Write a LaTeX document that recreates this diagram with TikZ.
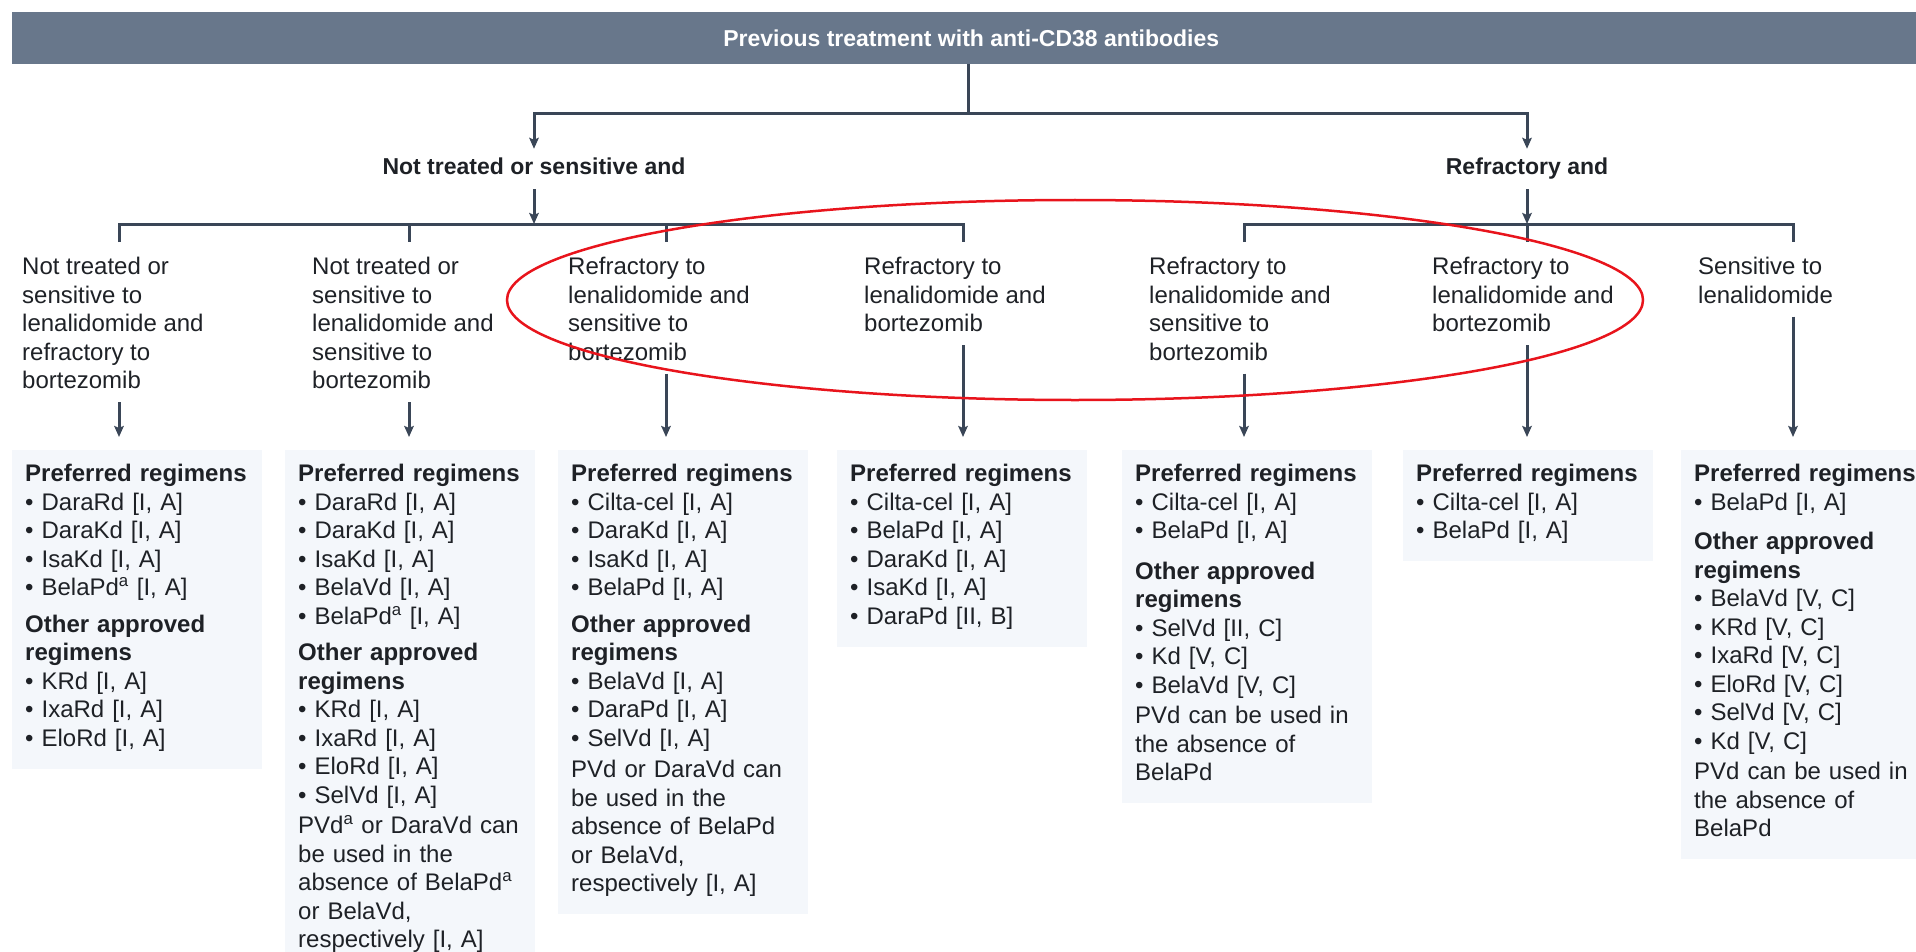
\documentclass[tikz,border=0pt]{standalone}
\usepackage{fontspec}
\setmainfont{Liberation Sans}
\usepackage{xcolor}
\usetikzlibrary{arrows.meta, positioning}

\definecolor{slate}{HTML}{68778B}
\definecolor{wirecol}{HTML}{3A4657}
\definecolor{boxbg}{HTML}{F4F7FB}
\definecolor{ink}{HTML}{1E2126}
\definecolor{redmark}{HTML}{E8141C}

\begin{document}
\begin{tikzpicture}[x=1pt, y=-1pt,
            banner/.style ={rectangle, fill=slate, text=white, anchor=north west,
                            minimum width=1904pt, minimum height=52pt, inner sep=0pt,
                            font=\fontsize{23}{27}\selectfont\bfseries},
            branch/.style ={text=ink, inner sep=9pt, text height=17pt, text depth=5pt,
                            font=\fontsize{23}{28}\selectfont\bfseries},
            cond/.style   ={anchor=north west, align=left, inner sep=0pt, text=ink,
                            font=\fontsize{24}{28.5}\selectfont},
            regbox/.style ={anchor=north west, align=left, fill=boxbg, text=ink,
                            text width=224pt, inner xsep=13pt, inner ysep=14pt,
                            execute at end node={\strut},
                            font=\fontsize{24}{28.5}\selectfont},
            wire/.style   ={draw=wirecol, line width=3pt},
            arr/.style    ={-{Stealth[length=11pt, width=9.5pt, inset=2pt]}, line width=3pt, wirecol}
        ]
            \useasboundingbox (0,0) rectangle (1916,952);

            % --- Cabecera ---
            \node[banner] (titulo) at (12,12) {\hspace*{14pt}Previous treatment with anti-CD38 antibodies};
            \coordinate (split) at (968,114);

            \node[branch] (nts)  at (534,169)  {Not treated or sensitive and};
            \node[branch] (refr) at (1527,169) {Refractory and};

            % --- Puntos de rama ---
            \coordinate (j1) at (119,224);
            \coordinate (j2) at (409,224);
            \coordinate (j3) at (666,224);
            \coordinate (j4) at (963,224);
            \coordinate (j5) at (1244,224);
            \coordinate (j6) at (1527,224);
            \coordinate (j7) at (1793,224);

            % --- Situaciones ---
            \node[cond] (c1) at (22,257)   {Not treated or\\sensitive to\\lenalidomide and\\refractory to\\bortezomib};
            \node[cond] (c2) at (312,257)  {Not treated or\\sensitive to\\lenalidomide and\\sensitive to\\bortezomib};
            \node[cond] (c3) at (568,257)  {Refractory to\\lenalidomide and\\sensitive to\\bortezomib};
            \node[cond] (c4) at (864,257)  {Refractory to\\lenalidomide and\\bortezomib};
            \node[cond] (c5) at (1149,257) {Refractory to\\lenalidomide and\\sensitive to\\bortezomib};
            \node[cond] (c6) at (1432,257) {Refractory to\\lenalidomide and\\bortezomib};
            \node[cond] (c7) at (1698,257) {Sensitive to\\lenalidomide};

            % --- Regimenes ---
            \node[regbox] (b1) at (12,450) {\textbf{Preferred regimens}\\
                \textbullet\ DaraRd [I, A]\\
                \textbullet\ DaraKd [I, A]\\
                \textbullet\ IsaKd [I, A]\\
                \textbullet\ BelaPd\textsuperscript{a} [I, A]\\[8pt]
                \textbf{Other approved}\\
                \textbf{regimens}\\
                \textbullet\ KRd [I, A]\\
                \textbullet\ IxaRd [I, A]\\
                \textbullet\ EloRd [I, A]};
            \node[regbox] (b2) at (285,450) {\textbf{Preferred regimens}\\
                \textbullet\ DaraRd [I, A]\\
                \textbullet\ DaraKd [I, A]\\
                \textbullet\ IsaKd [I, A]\\
                \textbullet\ BelaVd [I, A]\\
                \textbullet\ BelaPd\textsuperscript{a} [I, A]\\[8pt]
                \textbf{Other approved}\\
                \textbf{regimens}\\
                \textbullet\ KRd [I, A]\\
                \textbullet\ IxaRd [I, A]\\
                \textbullet\ EloRd [I, A]\\
                \textbullet\ SelVd [I, A]\\[2pt]
                PVd\textsuperscript{a} or DaraVd can\\
                be used in the\\
                absence of BelaPd\textsuperscript{a}\\
                or BelaVd,\\
                respectively [I, A]};
            \node[regbox] (b3) at (558,450) {\textbf{Preferred regimens}\\
                \textbullet\ Cilta-cel [I, A]\\
                \textbullet\ DaraKd [I, A]\\
                \textbullet\ IsaKd [I, A]\\
                \textbullet\ BelaPd [I, A]\\[8pt]
                \textbf{Other approved}\\
                \textbf{regimens}\\
                \textbullet\ BelaVd [I, A]\\
                \textbullet\ DaraPd [I, A]\\
                \textbullet\ SelVd [I, A]\\[3pt]
                PVd or DaraVd can\\
                be used in the\\
                absence of BelaPd\\
                or BelaVd,\\
                respectively [I, A]};
            \node[regbox] (b4) at (837,450) {\textbf{Preferred regimens}\\
                \textbullet\ Cilta-cel [I, A]\\
                \textbullet\ BelaPd [I, A]\\
                \textbullet\ DaraKd [I, A]\\
                \textbullet\ IsaKd [I, A]\\
                \textbullet\ DaraPd [II, B]};
            \node[regbox] (b5) at (1122,450) {\textbf{Preferred regimens}\\
                \textbullet\ Cilta-cel [I, A]\\
                \textbullet\ BelaPd [I, A]\\[12pt]
                \textbf{Other approved}\\
                \textbf{regimens}\\
                \textbullet\ SelVd [II, C]\\
                \textbullet\ Kd [V, C]\\
                \textbullet\ BelaVd [V, C]\\[2pt]
                PVd can be used in\\
                the absence of\\
                BelaPd};
            \node[regbox] (b6) at (1403,450) {\textbf{Preferred regimens}\\
                \textbullet\ Cilta-cel [I, A]\\
                \textbullet\ BelaPd [I, A]};
            \node[regbox] (b7) at (1681,450) {\textbf{Preferred regimens}\\
                \textbullet\ BelaPd [I, A]\\[11pt]
                \textbf{Other approved}\\
                \textbf{regimens}\\
                \textbullet\ BelaVd [V, C]\\
                \textbullet\ KRd [V, C]\\
                \textbullet\ IxaRd [V, C]\\
                \textbullet\ EloRd [V, C]\\
                \textbullet\ SelVd [V, C]\\
                \textbullet\ Kd [V, C]\\[2pt]
                PVd can be used in\\
                the absence of\\
                BelaPd};

            % --- Enlaces ---
            \draw[wire] (titulo.south -| split) -- (split);
            \draw[arr] (split) -| (nts.north);
            \draw[arr] (split) -| (refr.north);
            \draw[arr] (nts.south)  -- (nts.south |- j1);
            \draw[arr] (refr.south) -- (refr.south |- j5);

            % barras de reparto
            \draw[wire] (j1) ++(0,18) |- (j4) -- ++(0,18);
            \draw[wire] (j5) ++(0,18) |- (j7) -- ++(0,18);
            \foreach \j in {j2,j3,j6}
                \draw[wire] (\j) -- ++(0,18);

            % situacion -> regimenes
            \foreach \i in {1,...,7}
                \draw[arr, shorten <=13pt, shorten >=13pt] (c\i.south -| j\i) -- (b\i.north -| j\i);

            % marca roja
            \draw[redmark, line width=2.5pt] (1075,300) ellipse [x radius=568, y radius=100];
        \end{tikzpicture}
\end{document}
